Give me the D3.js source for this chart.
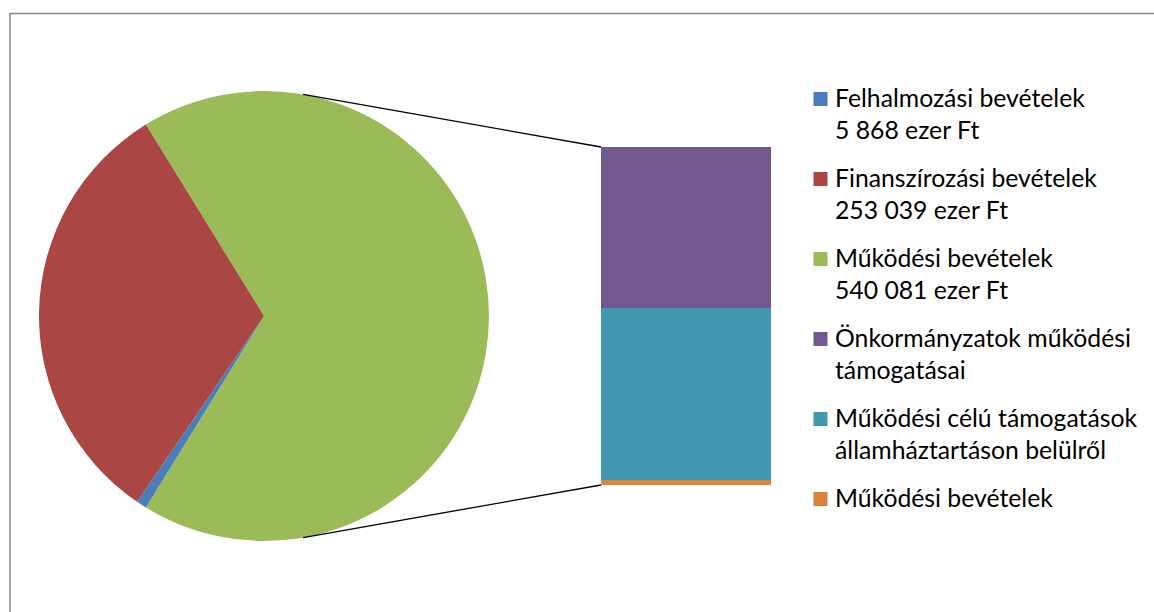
<!DOCTYPE html>
<html><head><meta charset="utf-8">
<script src="https://cdn.jsdelivr.net/npm/d3@7"></script>
<style>html,body{margin:0;padding:0;background:#fff;overflow:hidden}</style>
</head><body>
<svg id="c" width="1154" height="612"></svg>
<script>
// Pie data
const pieLabels = ["Felhalmozási bevételek", "Finanszírozási bevételek", "Működési bevételek"];
const pieValues = [5868, 253039, 540081];
const pieValueText = ["5 868 ezer Ft", "253 039 ezer Ft", "540 081 ezer Ft"];
// Bar-of-pie breakdown of "Működési bevételek" (estimated)
const barLabels = ["Önkormányzatok működési támogatásai", "Működési célú támogatások államháztartáson belülről", "Működési bevételek"];
const barValues = [257300, 274800, 7981];
const legendLines = [
  ["Felhalmozási bevételek", "5 868 ezer Ft"],
  ["Finanszírozási bevételek", "253 039 ezer Ft"],
  ["Működési bevételek", "540 081 ezer Ft"],
  ["Önkormányzatok működési", "támogatásai"],
  ["Működési célú támogatások", "államháztartáson belülről"],
  ["Működési bevételek"]
];
const pieColors = ["#4A7EBB", "#AA4643", "#9BBB59"];
const barColors = ["#71588F", "#4198AF", "#DB843D"];

const svg = d3.select("#c");
// chart border
svg.append("rect").attr("x", 10).attr("y", 13.5).attr("width", 1200).attr("height", 700)
  .attr("fill", "none").attr("stroke", "#878787").attr("stroke-width", 1.5);

const cx = 264, cy = 316, R = 225;
const total = d3.sum(pieValues);
const splitIdx = 2;
const splitAngle = pieValues[splitIdx] / total * 2 * Math.PI;
// split slice centered at 3 o'clock (PI/2)
const start = Math.PI / 2 - splitAngle / 2;
const order = [2, 0, 1];
const pie = d3.pie().sort(null).value(i => pieValues[i])
  .startAngle(start).endAngle(start + 2 * Math.PI);
const arcs = pie(order);
const arc = d3.arc().innerRadius(0).outerRadius(R);
const g = svg.append("g").attr("transform", `translate(${cx},${cy})`);
g.selectAll("path").data(arcs).join("path")
  .attr("d", arc).attr("fill", d => pieColors[d.data]);

// Bar
const bx0 = 601, bx1 = 771, by0 = 147, by1 = 485;
const y = d3.scaleLinear().domain([0, d3.sum(barValues)]).range([by0, by1]);
let acc = 0;
const stacks = barValues.map(v => { const s = acc; acc += v; return [s, acc]; });
svg.selectAll("rect.bar").data(stacks).join("rect").attr("class", "bar")
  .attr("x", bx0).attr("width", bx1 - bx0)
  .attr("y", d => y(d[0])).attr("height", d => y(d[1]) - y(d[0]))
  .attr("fill", (d, i) => barColors[i]);

// connector lines: tangent from bar corners to circle
function tangent(px, py, upper) {
  const dx = px - cx, dy = py - cy;
  const d = Math.hypot(dx, dy);
  const base = Math.atan2(dy, dx);
  const off = Math.acos(R / d);
  const a = upper ? base - off : base + off;
  return [cx + R * Math.cos(a), cy + R * Math.sin(a)];
}
const t1 = tangent(bx0, by0, true), t2 = tangent(bx0, by1, false);
svg.append("line").attr("x1", t1[0]).attr("y1", t1[1]).attr("x2", bx0).attr("y2", by0)
  .attr("stroke", "#000").attr("stroke-width", 1.3);
svg.append("line").attr("x1", t2[0]).attr("y1", t2[1]).attr("x2", bx0).attr("y2", by1)
  .attr("stroke", "#000").attr("stroke-width", 1.3);

// Legend
const legColors = pieColors.concat(barColors);
const fontFam = "Lato, 'Open Sans', sans-serif";
// fit font size so the first entry width matches target
const probe = svg.append("text").attr("font-family", fontFam).attr("font-size", 20).text(legendLines[0][0]);
const w20 = probe.node().getComputedTextLength();
probe.remove();
const fs = 20 * 250 / w20;
const leg = svg.append("g");
legendLines.forEach((lines, i) => {
  const base = 106.5 + 80 * i;
  leg.append("rect").attr("x", 813.5).attr("y", base - 14.5).attr("width", 14).attr("height", 14)
    .attr("fill", legColors[i]);
  lines.forEach((t, j) => {
    leg.append("text").attr("x", 835).attr("y", base + 32.5 * j)
      .attr("font-family", fontFam).attr("font-size", fs).attr("fill", "#000").text(t);
  });
});
</script>
</body></html>
